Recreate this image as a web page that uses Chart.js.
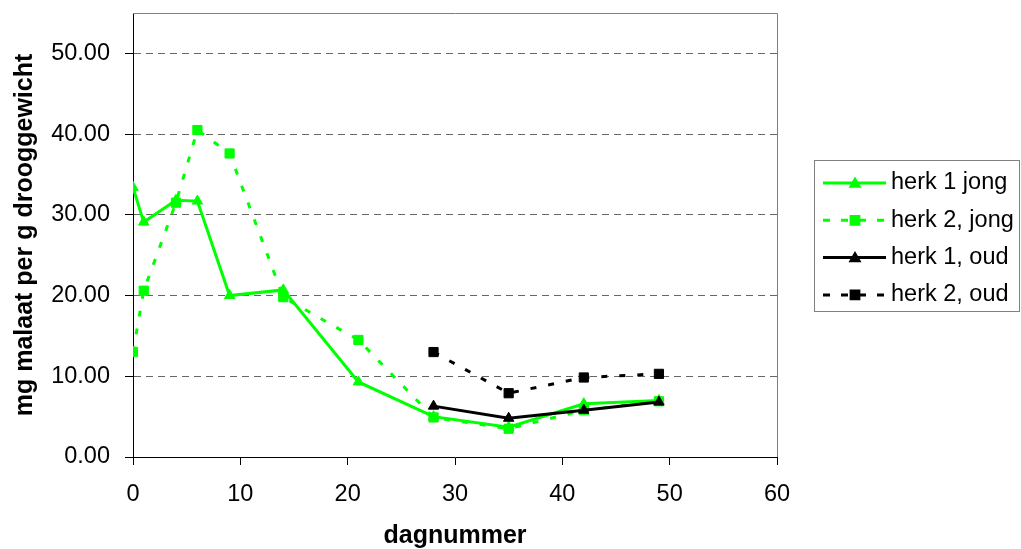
<!DOCTYPE html>
<html>
<head>
<meta charset="utf-8">
<script src="https://cdn.jsdelivr.net/npm/chart.js@4.4.1/dist/chart.umd.min.js"></script>
<style>
  html, body { margin: 0; padding: 0; background: #fff; }
  canvas { display: block; }
</style>
</head>
<body>
<canvas id="c" width="1021" height="549"></canvas>
<script>
// Day numbers for the two sampling series
const dagenJong = [0, 1, 4, 6, 9, 14, 21, 28, 35, 42, 49];
const dagenOud = [28, 35, 42, 49];

// mg malate per g dry weight
const herk1Jong = [33.4, 29.1, 31.8, 31.7, 20.0, 20.7, 9.3, 5.0, 3.7, 6.6, 7.0];
const herk2Jong = [13.0, 20.6, 31.5, 40.5, 37.6, 19.8, 14.5, 4.9, 3.5, 5.8, 6.9];
const herk1Oud = [6.3, 4.8, 5.8, 6.8];
const herk2Oud = [13.0, 7.9, 9.85, 10.3];

const seriesNames = ['herk 1 jong', 'herk 2, jong', 'herk 1, oud', 'herk 2, oud'];

const xTicks = [0, 10, 20, 30, 40, 50, 60];
const yTicks = [0, 10, 20, 30, 40, 50];

const FONT = "'Liberation Sans', Arial, sans-serif";
const GREEN = '#00FF00';
const BLACK = '#000000';

const toPoints = (xs, ys) => xs.map((x, i) => ({ x: x, y: ys[i] }));

// White page, plus the grey top/right frame of the plot area
const frame = {
  id: 'frame',
  beforeDraw(chart) {
    const ctx = chart.ctx;
    ctx.save();
    ctx.fillStyle = '#fff';
    ctx.fillRect(0, 0, chart.width, chart.height);
    ctx.restore();
  },
  beforeDatasetsDraw(chart) {
    const { ctx, chartArea: a } = chart;
    ctx.save();
    ctx.strokeStyle = '#808080';
    ctx.lineWidth = 1;
    ctx.beginPath();
    ctx.moveTo(a.left, Math.round(a.top) + 0.5);
    ctx.lineTo(Math.round(a.right) + 0.5, Math.round(a.top) + 0.5);
    ctx.lineTo(Math.round(a.right) + 0.5, a.bottom);
    ctx.stroke();
    ctx.restore();
  }
};

// Boxed legend to the right of the plot
const sideLegend = {
  id: 'sideLegend',
  afterDraw(chart) {
    const ctx = chart.ctx;
    const bx = 814, by = 160, bw = 206, bh = 152;
    ctx.save();
    ctx.fillStyle = '#fff';
    ctx.fillRect(bx, by, bw, bh);
    ctx.strokeStyle = '#808080';
    ctx.lineWidth = 1;
    ctx.strokeRect(bx + 0.5, by + 0.5, bw - 1, bh - 1);
    chart.data.datasets.forEach((ds, i) => {
      const y = 183 + i * 37.3;
      ctx.strokeStyle = ds.borderColor;
      ctx.lineWidth = ds.borderWidth;
      ctx.setLineDash(ds.borderDash && ds.borderDash.length ? [7, 11] : []);
      ctx.beginPath();
      ctx.moveTo(823, y);
      ctx.lineTo(886, y);
      ctx.stroke();
      ctx.setLineDash([]);
      ctx.fillStyle = ds.pointBackgroundColor;
      ctx.strokeStyle = ds.pointBorderColor;
      Chart.helpers.drawPoint(ctx, {
        pointStyle: ds.pointStyle,
        radius: ds.pointStyle === 'triangle' ? 4.5 : 5.5,
        borderWidth: 1,
        rotation: 0
      }, 855, y + (ds.pointStyle === 'triangle' ? 1 : 0));
      ctx.fillStyle = '#000';
      ctx.font = '23.5px ' + FONT;
      ctx.textAlign = 'left';
      ctx.textBaseline = 'middle';
      ctx.fillText(ds.label, 891, y);
    });
    ctx.restore();
  }
};

const lineDs = (label, pts, color, dashed, marker, order) => ({
  label: label,
  data: pts,
  borderColor: color,
  backgroundColor: color,
  borderWidth: 3,
  borderDash: dashed ? [6, 12] : [],
  borderCapStyle: 'butt',
  pointStyle: marker,
  pointRadius: marker === 'triangle' ? 6 : 6.5,
  pointBackgroundColor: color,
  pointBorderColor: color,
  pointBorderWidth: 1,
  tension: 0,
  order: order
});

new Chart(document.getElementById('c'), {
  type: 'line',
  data: {
    datasets: [
      lineDs(seriesNames[0], toPoints(dagenJong, herk1Jong), GREEN, false, 'triangle', 4),
      lineDs(seriesNames[1], toPoints(dagenJong, herk2Jong), GREEN, true, 'rect', 3),
      lineDs(seriesNames[2], toPoints(dagenOud, herk1Oud), BLACK, false, 'triangle', 2),
      lineDs(seriesNames[3], toPoints(dagenOud, herk2Oud), BLACK, true, 'rect', 1)
    ]
  },
  options: {
    responsive: false,
    animation: false,
    layout: { padding: { left: 0, top: 13, right: 244, bottom: 0 } },
    plugins: {
      legend: { display: false },
      tooltip: { enabled: false }
    },
    scales: {
      x: {
        type: 'linear',
        min: 0,
        max: 60,
        afterBuildTicks: s => { s.ticks = xTicks.map(v => ({ value: v })); },
        afterFit: s => { s.height = 92; s.paddingLeft = 0; s.paddingRight = 0; },
        border: { display: true, color: BLACK, width: 1 },
        grid: {
          display: true,
          drawOnChartArea: false,
          drawTicks: true,
          tickLength: 8,
          tickColor: BLACK,
          color: BLACK
        },
        ticks: {
          padding: 15,
          color: BLACK,
          font: { family: FONT, size: 23.5 },
          maxRotation: 0
        },
        title: {
          display: true,
          text: 'dagnummer',
          color: BLACK,
          font: { family: FONT, size: 25, weight: 'bold', lineHeight: 1 },
          padding: { top: 0, bottom: 0 }
        }
      },
      y: {
        type: 'linear',
        min: 0,
        max: 55,
        afterBuildTicks: s => { s.ticks = yTicks.map(v => ({ value: v })); },
        afterFit: s => { s.width = 133; s.paddingTop = 0; s.paddingBottom = 0; },
        border: { display: true, color: BLACK, width: 1, dash: [7, 5] },
        grid: {
          display: true,
          drawTicks: true,
          tickLength: 8,
          tickColor: BLACK,
          tickBorderDash: [],
          color: ctx => (ctx.tick && ctx.tick.value === 0) ? 'rgba(0,0,0,0)' : '#666',
          lineWidth: 1
        },
        ticks: {
          padding: 15,
          color: BLACK,
          font: { family: FONT, size: 23.5 },
          callback: v => Number(v).toFixed(2)
        },
        title: {
          display: true,
          text: 'mg malaat per g drooggewicht',
          color: BLACK,
          font: { family: FONT, size: 25, weight: 'bold', lineHeight: 1 },
          padding: { top: 13, bottom: 0 }
        }
      }
    }
  },
  plugins: [frame, sideLegend]
});
</script>
</body>
</html>
